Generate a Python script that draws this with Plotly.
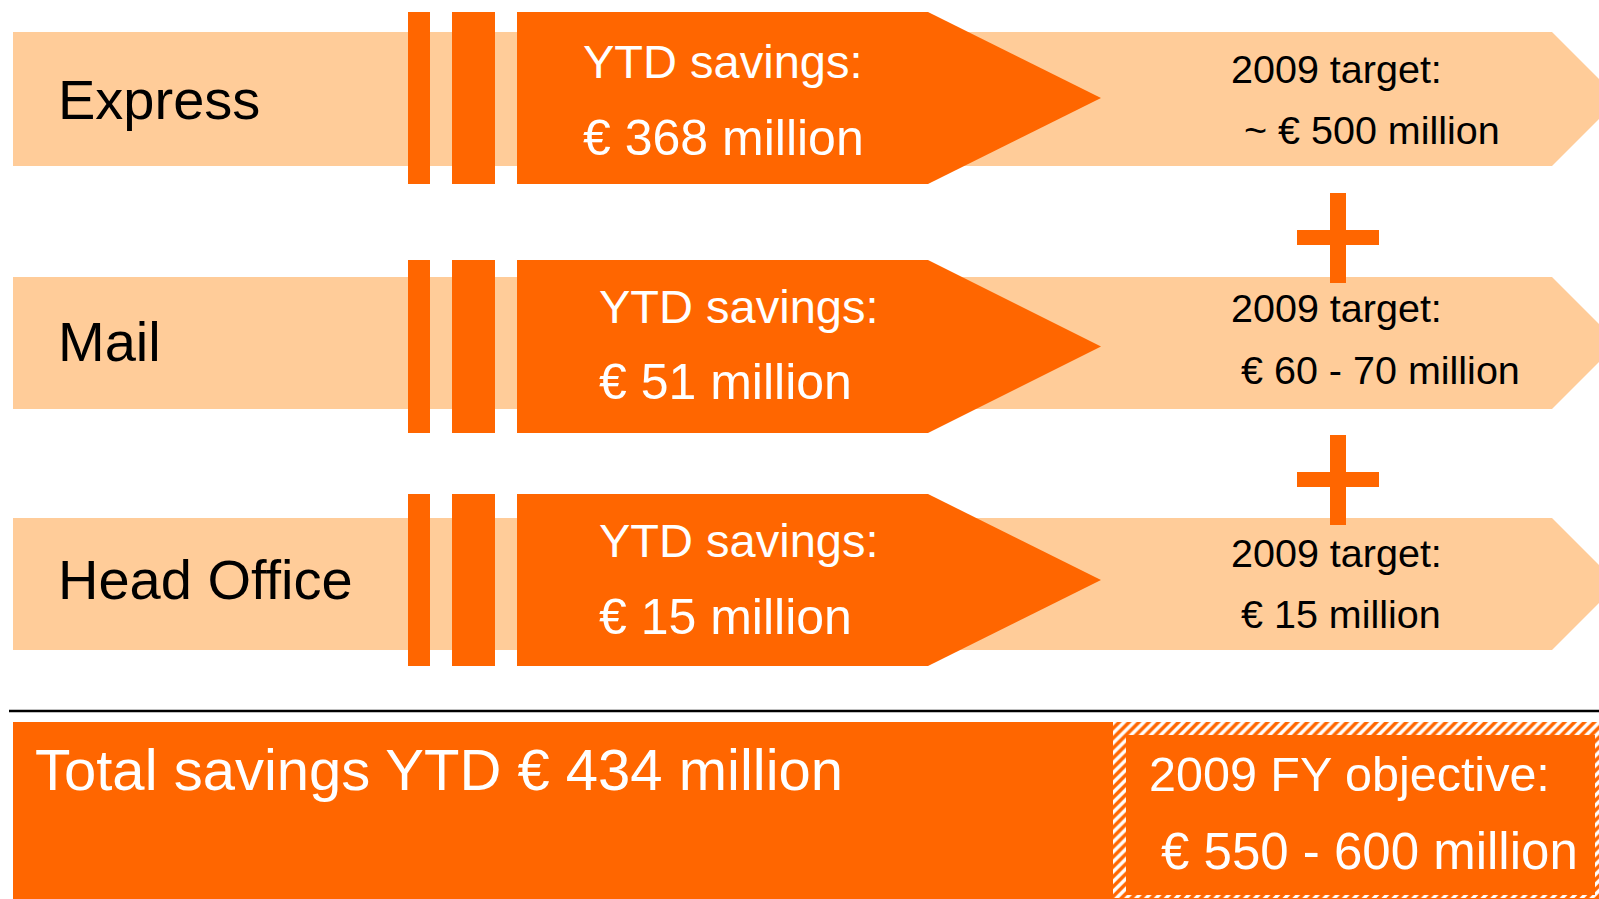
import plotly.graph_objects as go

# ---- data ----
segments = ["Express", "Mail", "Head Office"]
ytd_savings = [368, 51, 15]            # € million, YTD
targets_2009 = ["~ € 500 million", "€ 60 - 70 million", "€ 15 million"]
total_ytd = 434
fy_objective = "€ 550 - 600 million"

# ---- layout geometry (pixel space) ----
W, H = 1599, 899
DARK = "#FF6600"
LIGHT = "#FFCC99"
band_top = [32, 277, 518]
band_bot = [166, 409, 650]
dark_top = [12, 260, 494]
dark_bot = [184, 433, 666]
ytd_x = [581, 597, 597]
ytd_y1 = [61, 306, 540]
ytd_y2 = [138, 382, 617]
lbl_y = [99, 341, 579]
tgt_y1 = [69, 308, 553]
tgt_y2 = [130, 370, 614]
tgt_x1 = [1229, 1229, 1229]
tgt_x2 = [1242, 1239, 1239]
plus_y = [237, 479]

LABEL_FONT = "Liberation Sans, Arial, sans-serif"
BODY_FONT = "Liberation Sans, Arial, sans-serif"

fig = go.Figure()
shapes = []
ann = []

def rect(x0, y0, x1, y1, color, layer="below"):
    shapes.append(dict(type="rect", xref="x", yref="y", x0=x0, y0=y0, x1=x1, y1=y1,
                       fillcolor=color, line=dict(width=0), layer=layer))

def path(p, color, layer="below"):
    shapes.append(dict(type="path", xref="x", yref="y", path=p,
                       fillcolor=color, line=dict(width=0), layer=layer))

for i, seg in enumerate(segments):
    bt, bb = band_top[i], band_bot[i]
    mid = (bt + bb) / 2
    half = (bb - bt) / 2
    # light band arrow
    path(f"M 13,{bt} L 1552,{bt} L {1552 + half},{mid} L 1552,{bb} L 13,{bb} Z", LIGHT)
    dt, db = dark_top[i], dark_bot[i]
    dmid = (dt + db) / 2
    rect(408, dt, 430, db, DARK)
    rect(452, dt, 495, db, DARK)
    path(f"M 517,{dt} L 928,{dt} L 1101,{dmid} L 928,{db} L 517,{db} Z", DARK)

    ann.append(dict(x=56, y=lbl_y[i], text=seg, xanchor="left", yanchor="middle",
                    font=dict(family=LABEL_FONT, size=56, color="black")))
    ann.append(dict(x=ytd_x[i], y=ytd_y1[i], text="YTD savings:", xanchor="left", yanchor="middle",
                    font=dict(family=BODY_FONT, size=47, color="white")))
    ann.append(dict(x=ytd_x[i], y=ytd_y2[i], text=f"€ {ytd_savings[i]} million", xanchor="left",
                    yanchor="middle", font=dict(family=BODY_FONT, size=50, color="white")))
    ann.append(dict(x=tgt_x1[i], y=tgt_y1[i], text="2009 target:", xanchor="left", yanchor="middle",
                    font=dict(family=BODY_FONT, size=39.5, color="black")))
    ann.append(dict(x=tgt_x2[i], y=tgt_y2[i], text=targets_2009[i], xanchor="left", yanchor="middle",
                    font=dict(family=BODY_FONT, size=39.5, color="black")))

for py in plus_y:
    rect(1330, py - 44, 1346, py + 46, DARK, layer="above")
    rect(1297, py - 7, 1379, py + 8, DARK, layer="above")

# separator line
shapes.append(dict(type="line", xref="x", yref="y", x0=9, x1=W, y0=711, y1=711,
                   line=dict(color="black", width=2.5)))
# total box
rect(13, 722, W + 5, H + 5, DARK)

# hatched objective box
fig.add_trace(go.Scatter(x=[1113, W + 2, W + 2, 1113, 1113], y=[722, 722, 898, 898, 722],
                         mode="lines", fill="toself", line=dict(width=0), hoverinfo="skip",
                         fillpattern=dict(shape="/", bgcolor="white", fgcolor=DARK,
                                          fgopacity=1, size=7, solidity=0.5),
                         showlegend=False))
rect(1126, 735, 1595, 895, DARK, layer="above")

ann.append(dict(x=33, y=769, text=f"Total savings YTD € {total_ytd} million", xanchor="left",
                yanchor="middle", font=dict(family=BODY_FONT, size=58, color="white")))
ann.append(dict(x=1147, y=774, text="2009 FY objective:", xanchor="left", yanchor="middle",
                font=dict(family=BODY_FONT, size=48.5, color="white")))
ann.append(dict(x=1159, y=851, text=fy_objective, xanchor="left", yanchor="middle",
                font=dict(family=BODY_FONT, size=51, color="white")))

for a in ann:
    a.update(xref="x", yref="y", showarrow=False)

fig.update_layout(
    width=W, height=H,
    margin=dict(l=0, r=0, t=0, b=0),
    paper_bgcolor="white", plot_bgcolor="white",
    xaxis=dict(range=[0, W], visible=False, fixedrange=True),
    yaxis=dict(range=[H, 0], visible=False, fixedrange=True),
    shapes=shapes, annotations=ann, showlegend=False,
)

fig.write_html("out.html", config={"displayModeBar": False},
               post_script="document.body.style.margin='0';document.body.style.overflow='hidden';")
